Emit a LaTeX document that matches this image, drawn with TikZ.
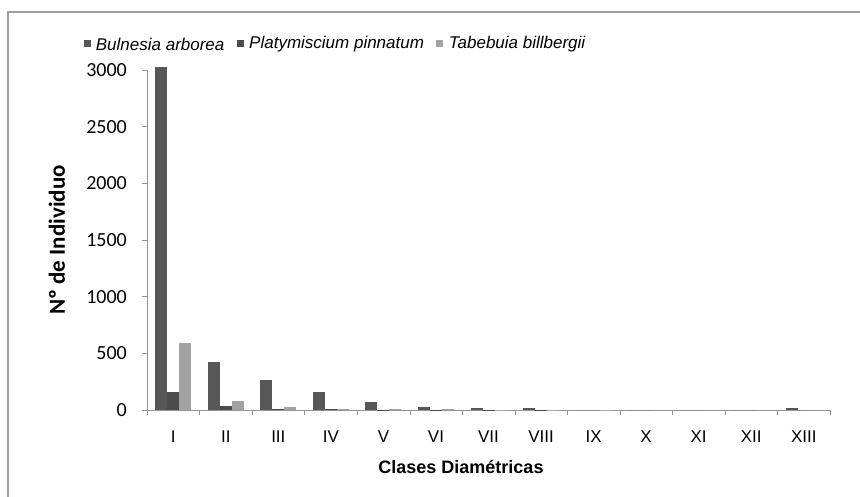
\documentclass[tikz,border=0pt]{standalone}
\usepackage{fontspec}
\setmainfont{Liberation Sans}
\newfontfamily\calibri{Carlito}
\usetikzlibrary{positioning}

\definecolor{bulnesia}{gray}{0.34}
\definecolor{platy}{gray}{0.30}
\definecolor{tabebuia}{gray}{0.64}
\definecolor{axisgray}{gray}{0.58}

\begin{document}
\begin{tikzpicture}[x=1pt,y=-1pt,
                    every node/.style = {inner sep=0pt},
                    ytick/.style = {font=\calibri\fontsize{20}{20}\selectfont,
                                    anchor=east},
                    xtick/.style = {font=\fontsize{17}{17}\selectfont},
                    legkey/.style = {minimum size=7pt},
                    legtext/.style = {font=\itshape\fontsize{17}{17}\selectfont,
                                      anchor=west}]
  \useasboundingbox[fill=white] (0,0) rectangle (860,497);
  % chart frame, cut at the right and bottom
  \draw[gray!75,line width=1.3pt] (8,500) |- (865,12);
  % legend
  \node[legkey,fill=bulnesia] (kB) at (87,44) {};
  \node[legtext,right=5pt of kB] (tB) {Bulnesia arborea};
  \node[legkey,fill=platy,right=12pt of tB] (kP) {};
  \node[legtext,right=5pt of kP] (tP) {Platymiscium pinnatum};
  \node[legkey,fill=tabebuia,right=12pt of tP] (kT) {};
  \node[legtext,right=5pt of kT] (tT) {Tabebuia billbergii};
  % axes
  \coordinate (o) at (147,410);
  \coordinate (ytop) at (147,70);
  \coordinate (xend) at (830,410);
  \draw[axisgray] (ytop) -- (o) -- (xend);
  \foreach \v in {0,500,...,3000} {
    \draw[axisgray] (142,{410-\v*0.11333}) -- (147,{410-\v*0.11333});
    \node[ytick] (y\v) at (127,{410-\v*0.11333}) {\v};
  }
  \foreach \k in {0,...,13}
    \draw[axisgray] ({147+\k*52.54},410) -- ({147+\k*52.54},415);
  % bars per diameter class
  \foreach \i/\n/\b/\p/\t in {1/I/3030/156/594, 2/II/426/35/82,
      3/III/265/9/24, 4/IV/159/8/6, 5/V/70/4/8, 6/VI/25/3/6,
      7/VII/15/2/4, 8/VIII/15/2/1, 9/IX/0/0/1, 10/X/0/0/0,
      11/XI/0/0/0, 12/XII/0/0/0, 13/XIII/15/0/0} {
    \pgfmathsetmacro\c{147+(\i-0.5)*52.54}
    \fill[bulnesia] (\c-18,410) rectangle (\c-6,{410-\b*0.11333});
    \fill[platy] (\c-6,410) rectangle (\c+6,{410-\p*0.11333});
    \fill[tabebuia] (\c+6,410) rectangle (\c+18,{410-\t*0.11333});
    \node[xtick] (c\i) at (\c,437) {\n};
  }
  % axis titles
  \node[rotate=90,font=\calibri\bfseries\fontsize{23}{23}\selectfont]
    (ytitle) at (57,240) {Nº de Individuo};
  \node[font=\bfseries\fontsize{18}{18}\selectfont]
    (xtitle) at (461,467) {Clases Diamétricas};
\end{tikzpicture}
\end{document}
